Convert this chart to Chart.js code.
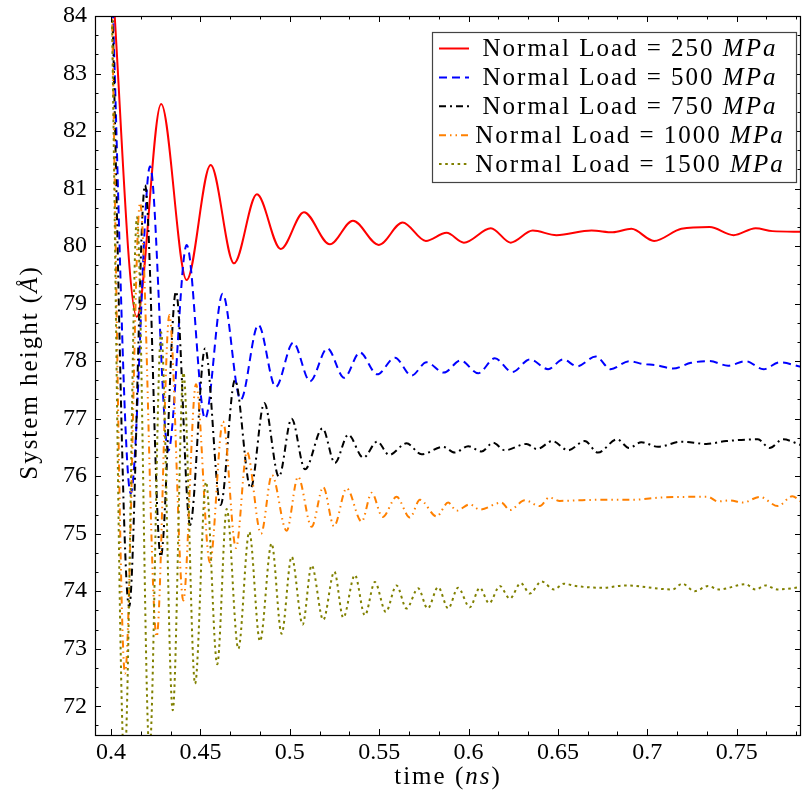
<!DOCTYPE html>
<html>
<head>
<meta charset="utf-8">
<script src="https://cdn.jsdelivr.net/npm/chart.js@4/dist/chart.umd.min.js"></script>
<style>
  html, body { margin: 0; padding: 0; background: #ffffff; }
  #wrap { width: 802px; height: 796px; }
</style>
</head>
<body>
<div id="wrap"><canvas id="c" width="802" height="796"></canvas></div>
<script>
// ---------------- data ----------------
const seriesLabels = ["250", "500", "750", "1000", "1500"];

const time250 = [0.400, 0.4144, 0.428, 0.4423, 0.4557, 0.4688, 0.4816, 0.4949, 0.5079, 0.5224, 0.5353, 0.5498, 0.5631, 0.5761, 0.5877, 0.5974, 0.6125, 0.6236, 0.6359, 0.6492, 0.6688, 0.6807, 0.6911, 0.7038, 0.7191, 0.7349, 0.7483, 0.7606, 0.7700, 0.786];
const height250 = [85.0, 78.77, 82.47, 79.41, 81.41, 79.70, 80.90, 79.95, 80.59, 80.03, 80.44, 80.02, 80.41, 80.09, 80.23, 80.06, 80.31, 80.06, 80.27, 80.19, 80.27, 80.24, 80.30, 80.09, 80.30, 80.33, 80.19, 80.31, 80.26, 80.25];

const time500 = [0.400, 0.411, 0.4218, 0.432, 0.4423, 0.4526, 0.4624, 0.4725, 0.4824, 0.4921, 0.5019, 0.5113, 0.521, 0.5304, 0.5392, 0.5489, 0.5588, 0.5681, 0.5765, 0.5862, 0.5955, 0.6054, 0.6147, 0.6244, 0.6343, 0.6445, 0.6529, 0.6607, 0.6712, 0.6795, 0.6898, 0.6975, 0.7051, 0.7144, 0.7245, 0.7349, 0.7452, 0.755, 0.7651, 0.774, 0.786];
const height500 = [85.0, 75.70, 81.39, 76.44, 80.02, 77.00, 79.17, 77.33, 78.63, 77.55, 78.32, 77.65, 78.22, 77.71, 78.15, 77.77, 78.06, 77.75, 77.98, 77.80, 78.01, 77.79, 78.05, 77.81, 78.03, 77.86, 78.03, 77.91, 78.08, 77.86, 78.00, 77.95, 77.93, 77.87, 77.97, 78.00, 77.92, 78.00, 77.86, 77.98, 77.90];

const time750 = [0.400, 0.4101, 0.419, 0.4278, 0.4363, 0.4442, 0.4526, 0.4613, 0.4693, 0.4781, 0.4857, 0.4939, 0.501, 0.5085, 0.5183, 0.5252, 0.5327, 0.5411, 0.5489, 0.5556, 0.5653, 0.5737, 0.5858, 0.5923, 0.5998, 0.6073, 0.6137, 0.6203, 0.6324, 0.6383, 0.6469, 0.6557, 0.665, 0.6724, 0.6831, 0.6898, 0.6967, 0.706, 0.7191, 0.733, 0.7442, 0.7619, 0.7684, 0.7759, 0.786];
const height750 = [85.0, 73.73, 81.06, 74.60, 79.21, 75.15, 78.22, 75.50, 77.67, 75.79, 77.27, 75.99, 77.00, 76.12, 76.83, 76.23, 76.72, 76.32, 76.60, 76.37, 76.57, 76.38, 76.51, 76.41, 76.52, 76.43, 76.58, 76.45, 76.56, 76.47, 76.61, 76.45, 76.61, 76.41, 76.64, 76.49, 76.59, 76.51, 76.60, 76.56, 76.61, 76.64, 76.49, 76.64, 76.54];

const time1000 = [0.400, 0.4078, 0.4162, 0.4255, 0.4326, 0.4404, 0.4475, 0.4553, 0.4626, 0.4699, 0.4760, 0.4839, 0.4900, 0.4982, 0.5046, 0.5122, 0.5187, 0.5247, 0.5318, 0.5402, 0.5458, 0.5519, 0.5597, 0.5672, 0.5728, 0.5821, 0.5886, 0.5933, 0.6007, 0.6063, 0.6184, 0.6231, 0.6315, 0.6399, 0.6451, 0.6510, 0.6604, 0.6762, 0.6920, 0.7079, 0.7237, 0.7339, 0.7395, 0.7461, 0.7535, 0.7629, 0.7731, 0.7811, 0.786];
const height1000 = [85.0, 72.57, 80.75, 73.21, 78.80, 73.84, 77.60, 74.50, 76.95, 74.75, 76.42, 75.00, 76.02, 75.05, 75.99, 75.12, 75.81, 75.13, 75.79, 75.21, 75.71, 75.29, 75.64, 75.28, 75.59, 75.30, 75.54, 75.40, 75.51, 75.42, 75.54, 75.41, 75.58, 75.48, 75.63, 75.57, 75.58, 75.59, 75.59, 75.63, 75.64, 75.64, 75.56, 75.58, 75.54, 75.64, 75.48, 75.65, 75.56];

const time1500 = [0.400, 0.4075, 0.4145, 0.4215, 0.428, 0.4345, 0.4405, 0.447, 0.4531, 0.4594, 0.4647, 0.4712, 0.4773, 0.4833, 0.4898, 0.4954, 0.501, 0.5072, 0.5122, 0.5187, 0.5249, 0.5299, 0.5364, 0.542, 0.5476, 0.5537, 0.5597, 0.5653, 0.5718, 0.5771, 0.583, 0.5886, 0.5941, 0.6007, 0.6063, 0.6115, 0.6175, 0.6231, 0.6292, 0.6343, 0.6408, 0.6478, 0.6534, 0.6600, 0.6750, 0.6880, 0.714, 0.7196, 0.7265, 0.7340, 0.7400, 0.755, 0.7606, 0.7662, 0.7726, 0.786];
const height1500 = [85.0, 71.0, 80.5, 71.2, 78.5, 71.93, 77.8, 72.39, 75.90, 72.73, 75.43, 73.00, 75.03, 73.13, 74.83, 73.26, 74.60, 73.42, 74.45, 73.50, 74.34, 73.54, 74.28, 73.58, 74.16, 73.64, 74.10, 73.70, 74.05, 73.70, 74.07, 73.70, 74.06, 73.72, 74.06, 73.79, 74.09, 73.87, 74.14, 73.96, 74.17, 74.03, 74.13, 74.09, 74.06, 74.10, 74.03, 74.13, 74.00, 74.09, 74.03, 74.12, 74.03, 74.10, 74.03, 74.07];

const xTickValues = [0.4, 0.45, 0.5, 0.55, 0.6, 0.65, 0.7, 0.75];
const xTickLabels = ["0.4", "0.45", "0.5", "0.55", "0.6", "0.65", "0.7", "0.75"];
const yTickValues = [72, 73, 74, 75, 76, 77, 78, 79, 80, 81, 82, 83, 84];
const yTickLabels = ["72", "73", "74", "75", "76", "77", "78", "79", "80", "81", "82", "83", "84"];

const xTitleParts = [["time (", false], ["ns", true], [")", false]];
const yTitleParts = [["System height (", false], ["Å", true], [")", false]];

// ---------------- styling ----------------
const SERIF = "'Liberation Serif', 'DejaVu Serif', serif";
const TEXT_SIZE = 25;
const LETTER_SP = 2;
const styles = [
  { color: "#ff0000", dash: [] },
  { color: "#0000ff", dash: [8, 5] },
  { color: "#000000", dash: [7, 4, 2, 4] },
  { color: "#ff8000", dash: [7, 4, 1.5, 4, 1.5, 4] },
  { color: "#808000", dash: [2.6, 3.6] }
];
const times = [time250, time500, time750, time1000, time1500];
const heights = [height250, height500, height750, height1000, height1500];

const datasets = seriesLabels.map((lab, i) => ({
  label: "Normal Load = " + lab + " MPa",
  data: times[i].map((t, k) => ({ x: t, y: heights[i][k] })),
  borderColor: styles[i].color,
  backgroundColor: styles[i].color,
  borderDash: styles[i].dash,
  borderWidth: 2,
  pointRadius: 0,
  fill: false,
  cubicInterpolationMode: "monotone",
  order: 5 - i
}));

// draw text made of regular / italic parts, centred on (cx, cy)
function drawParts(ctx, parts, cx, cy, size, ls) {
  const reg = size + "px " + SERIF;
  const ita = "italic " + size + "px " + SERIF;
  const hasLs = "letterSpacing" in ctx;
  const widths = parts.map(([t, it]) => {
    ctx.font = it ? ita : reg;
    if (hasLs) ctx.letterSpacing = "0px";
    return ctx.measureText(t).width + (hasLs ? [...t].length * ls : 0);
  });
  const total = widths.reduce((a, b) => a + b, 0);
  let x = cx - total / 2;
  ctx.fillStyle = "#000";
  ctx.textAlign = "left";
  ctx.textBaseline = "middle";
  parts.forEach(([t, it], k) => {
    ctx.font = it ? ita : reg;
    if (hasLs) ctx.letterSpacing = ls + "px";
    ctx.fillText(t, x, cy);
    x += widths[k];
  });
  if (hasLs) ctx.letterSpacing = "0px";
}

// inward ticks + frame + axis titles
const frameTicks = {
  id: "frameTicks",
  afterDatasetsDraw(chart) {
    const { ctx, chartArea: a, scales } = chart;
    const xs = scales.x, ys = scales.y;
    ctx.save();
    ctx.strokeStyle = "#000";
    ctx.lineWidth = 1;
    const drawX = (v, len) => {
      const p = Math.round(xs.getPixelForValue(v)) + 0.5;
      if (p < a.left || p > a.right) return;
      ctx.beginPath();
      ctx.moveTo(p, a.bottom); ctx.lineTo(p, a.bottom - len);
      ctx.moveTo(p, a.top); ctx.lineTo(p, a.top + len);
      ctx.stroke();
    };
    const drawY = (v, len) => {
      const p = Math.round(ys.getPixelForValue(v)) + 0.5;
      if (p < a.top - 0.5 || p > a.bottom + 0.5) return;
      ctx.beginPath();
      ctx.moveTo(a.left, p); ctx.lineTo(a.left + len, p);
      ctx.moveTo(a.right, p); ctx.lineTo(a.right - len, p);
      ctx.stroke();
    };
    const xStep = xTickValues[1] - xTickValues[0];
    for (let k = -3; k <= 3 * xTickValues.length + 3; k++) {
      drawX(xTickValues[0] + k * xStep / 3, k % 3 === 0 ? 6 : 3.5);
    }
    const yStep = yTickValues[1] - yTickValues[0];
    for (let k = -3; k <= 3 * yTickValues.length + 3; k++) {
      drawY(yTickValues[0] + k * yStep / 3, k % 3 === 0 ? 6 : 3.5);
    }
    ctx.lineWidth = 1.2;
    ctx.strokeRect(a.left + 0.5, a.top + 0.5, a.right - a.left - 1, a.bottom - a.top);

    // axis titles
    drawParts(ctx, xTitleParts, (a.left + a.right) / 2, a.bottom + 42, TEXT_SIZE, LETTER_SP);
    ctx.save();
    ctx.translate(a.left - 65, (a.top + a.bottom) / 2 - 3);
    ctx.rotate(-Math.PI / 2);
    drawParts(ctx, yTitleParts, 0, 0, TEXT_SIZE, LETTER_SP);
    ctx.restore();
    ctx.restore();
  }
};

// boxed legend inside the plot, with italic unit
const boxLegend = {
  id: "boxLegend",
  afterDraw(chart) {
    const { ctx, chartArea: a } = chart;
    const w = 364, h = 150;
    const x0 = a.right - 5 - w, y0 = a.top + 16;
    ctx.save();
    ctx.fillStyle = "#fff";
    ctx.fillRect(x0, y0, w, h);
    ctx.strokeStyle = "#444";
    ctx.lineWidth = 1.2;
    ctx.strokeRect(x0 + 0.5, y0 + 0.5, w, h);
    chart.data.datasets.forEach((ds, i) => {
      const cy = y0 + 16.5 + i * 28.9;
      ctx.strokeStyle = ds.borderColor;
      ctx.lineWidth = 2;
      ctx.setLineDash(ds.borderDash);
      ctx.beginPath();
      ctx.moveTo(x0 + 7, cy); ctx.lineTo(x0 + 37, cy);
      ctx.stroke();
      ctx.setLineDash([]);
      drawParts(ctx, [["Normal Load = " + seriesLabels[i] + " ", false], ["MPa", true]],
        x0 + 198, cy + 1, TEXT_SIZE, LETTER_SP);
    });
    ctx.restore();
  }
};

new Chart(document.getElementById("c"), {
  type: "line",
  data: { datasets },
  plugins: [frameTicks, boxLegend],
  options: {
    responsive: false,
    animation: false,
    devicePixelRatio: 1,
    layout: { padding: { top: 16, right: 1, left: 0, bottom: 0 } },
    plugins: {
      legend: { display: false },
      tooltip: { enabled: false }
    },
    scales: {
      x: {
        type: "linear",
        min: 0.391,
        max: 0.786,
        afterBuildTicks: (s) => { s.ticks = xTickValues.map(v => ({ value: v })); },
        afterFit: (s) => { s.height = 61; },
        grid: { display: true, drawOnChartArea: false, drawTicks: false },
        border: { display: false },
        ticks: {
          color: "#000",
          font: { family: SERIF, size: 24, lineHeight: 1 },
          padding: 6,
          maxRotation: 0,
          autoSkip: false,
          callback: (v, i) => xTickLabels[i]
        },
        title: { display: false }
      },
      y: {
        type: "linear",
        min: 71.5,
        max: 84,
        afterBuildTicks: (s) => { s.ticks = yTickValues.map(v => ({ value: v })); },
        afterFit: (s) => { s.width = 95; },
        grid: { display: true, drawOnChartArea: false, drawTicks: false },
        border: { display: false },
        ticks: {
          color: "#000",
          font: { family: SERIF, size: 24, lineHeight: 0.6 },
          padding: 8,
          autoSkip: false,
          callback: (v, i) => yTickLabels[i]
        },
        title: { display: false }
      }
    }
  }
});
</script>
</body>
</html>
